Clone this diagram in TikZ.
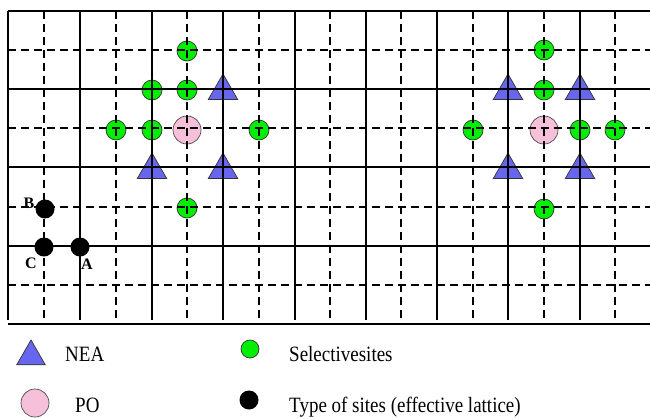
\documentclass[tikz,border=0pt]{standalone}
\usepackage{fontspec}
\setmainfont{Liberation Serif}
\usetikzlibrary{shapes.geometric}
\definecolor{neablue}{RGB}{102,102,238}
\definecolor{selgreen}{RGB}{0,238,0}
\definecolor{popink}{RGB}{246,192,218}
\newcommand{\legstretch}[1]{\scalebox{1}[1.15]{#1}}
\tikzset{
  solidline/.style={line width=1.4pt,black},
  dashline/.style={line width=1.4pt,black,dash pattern=on 8pt off 5pt},
  sel/.style={circle,draw=black!80,line width=0.7pt,fill=selgreen,minimum size=20pt,inner sep=0pt},
  po/.style={circle,draw=black!70,line width=0.7pt,fill=popink,minimum size=28pt,inner sep=0pt},
  nea/.style={regular polygon,regular polygon sides=3,draw=black!80,line width=0.7pt,fill=neablue,minimum size=34pt,inner sep=0pt},
  site/.style={circle,fill=black,minimum size=19pt,inner sep=0pt},
  lbl/.style={font=\bfseries\fontsize{16}{16}\selectfont,inner sep=0pt},
  legtext/.style={font=\fontsize{19}{20}\selectfont,anchor=base west,inner sep=0pt}
}
\begin{document}
\begin{tikzpicture}[x=1pt,y=-1pt]
\useasboundingbox (0,0) rectangle (650,418);
% markers (drawn first; lattice lines lie on top)
\node[sel] (g1) at (187,51) {};
\node[sel] (g2) at (152,90) {};
\node[sel] (g3) at (187,90) {};
\node[sel] (g4) at (116,130) {};
\node[sel] (g5) at (152,130) {};
\node[sel] (g6) at (259,130) {};
\node[sel] (g7) at (187,208) {};
\node[po] (p1) at (187,130) {};
\node[nea] (t1) at (223,91) {};
\node[nea] (t2) at (152,170) {};
\node[nea] (t3) at (223,170) {};
\node[sel] (h1) at (544,50) {};
\node[sel] (h2) at (544,90) {};
\node[sel] (h3) at (473,130) {};
\node[sel] (h4) at (580,130) {};
\node[sel] (h5) at (615,130) {};
\node[sel] (h6) at (544,209) {};
\node[po] (p2) at (544,130) {};
\node[nea] (u1) at (508,91) {};
\node[nea] (u2) at (580,91) {};
\node[nea] (u3) at (508,170) {};
\node[nea] (u4) at (580,170) {};
\node[site] (B) at (45,209) {};
\node[site] (C) at (44,247) {};
\node[site] (A) at (80,247) {};
% lattice
\foreach \y in {11,89,167,246} \draw[solidline] (8,\y) -- (650,\y);
\foreach \y in {50,128,207,285} \draw[dashline] (8,\y) -- (650,\y);
\foreach \x in {8,80,152,223,295,366,437,508,580} \draw[solidline] (\x,11) -- (\x,320);
\foreach \x in {44,116,187,259,330,401,473,544,615} \draw[dashline] (\x,11) -- (\x,320);
\draw[line width=2pt] (8,324) -- (650,324);
% site labels
\node[lbl] (lB) at (29,203) {B};
\node[lbl] (lC) at (31,263) {C};
\node[lbl] (lA) at (87,264) {A};
% legend
\node[nea,minimum size=33pt] (kNEA) at (31,356.5) {};
\node[legtext] (tNEA) at (65,361) {\legstretch{NEA}};
\node[po,minimum size=28pt] (kPO) at (35,403) {};
\node[legtext] (tPO) at (75,412) {\legstretch{PO}};
\node[sel,minimum size=18pt] (kSel) at (250,349) {};
\node[legtext] (tSel) at (289,361) {\legstretch{Selectivesites}};
\node[site,minimum size=19pt] (kSite) at (249,400) {};
\node[legtext] (tSite) at (289,412) {\legstretch{Type of sites (effective lattice)}};
\end{tikzpicture}
\end{document}
